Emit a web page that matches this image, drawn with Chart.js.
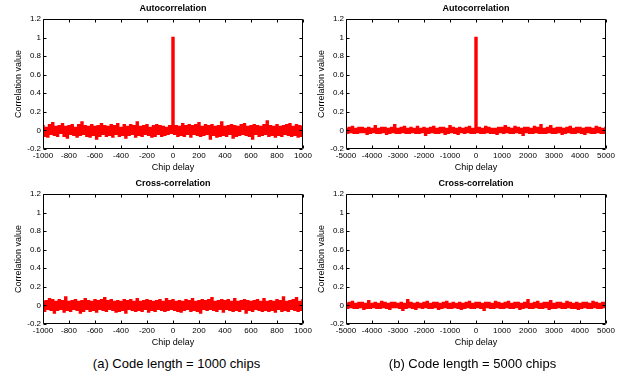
<!DOCTYPE html>
<html>
<head>
<meta charset="utf-8">
<script src="https://cdn.jsdelivr.net/npm/chart.js@4.4.1/dist/chart.umd.min.js"></script>
<style>
body{margin:0;background:#fff;width:626px;height:378px;position:relative;overflow:hidden;font-family:"Liberation Sans",Arial,sans-serif}
canvas{position:absolute}
.cap{position:absolute;top:356px;width:313px;text-align:center;font-size:13px;line-height:15px;color:#000}
</style>
</head>
<body>
<canvas id="autoA" width="313" height="175" style="left:0;top:0"></canvas>
<canvas id="autoB" width="313" height="175" style="left:303px;top:0"></canvas>
<canvas id="crossA" width="313" height="175" style="left:0;top:175px"></canvas>
<canvas id="crossB" width="313" height="175" style="left:303px;top:175px"></canvas>
<div class="cap" style="left:20px">(a) Code length = 1000 chips</div>
<div class="cap" style="left:316px">(b) Code length = 5000 chips</div>
<script>
// correlation values, evenly spaced over the delay range
const auto1000 = [
  .05,-.06,.03,-.07,.06,-.04,.08,-.05,.04,-.06,
  .05,-.03,.07,-.06,.04,-.08,.05,-.04,.06,-.05,
  .03,-.07,.06,-.05,.09,-.04,.05,-.06,.04,-.07,
  .06,-.05,.04,-.09,.05,-.06,.07,-.04,.05,-.06,
  .04,-.05,.06,-.07,.05,-.04,.07,-.06,.03,-.05,
  .06,-.08,.04,-.05,.06,-.04,.05,-.07,.09,-.05,
  .04,-.06,.05,-.04,.06,-.05,.03,-.07,.05,-.06,
  .06,-.04,.05,-.06,.04,-.05,.03,-.04,.05,-.03,
  1,
  -.04,.05,-.06,.04,-.05,.07,-.06,.05,-.04,.06,
  -.07,.05,-.04,.06,-.05,.08,-.06,.04,-.05,.06,
  -.04,.05,-.09,.06,-.05,.04,-.07,.05,-.06,.09,
  -.05,.04,-.06,.05,-.04,.06,-.08,.05,-.06,.04,
  -.05,.06,-.04,.07,-.05,.04,-.06,.05,-.09,.06,
  -.04,.05,-.06,.04,-.05,.06,-.04,.10,-.06,.05,
  -.05,.04,-.07,.06,-.05,.04,-.06,.05,-.04,.06,
  -.05,.07,-.06,.04,-.05,.06,-.07,.05,-.06,.04
];
const cross1000 = [
  .04,-.06,.05,-.04,.07,-.05,.06,-.08,.04,-.05,
  .06,-.04,.05,-.07,.09,-.05,.04,-.06,.05,-.04,
  .06,-.05,.04,-.08,.05,-.06,.07,-.04,.05,-.06,
  .04,-.05,.06,-.07,.05,-.04,.06,-.05,.08,-.06,
  .05,-.04,.06,-.05,.04,-.07,.05,-.06,.04,-.05,
  .06,-.08,.05,-.04,.06,-.05,.04,-.06,.07,-.05,
  .04,-.06,.05,-.04,.06,-.07,.05,-.05,.04,-.06,
  .05,-.04,.06,-.05,.04,-.06,.07,-.05,.05,-.04,
  .06,
  -.05,.04,-.06,.05,-.07,.04,-.05,.06,-.04,.05,
  -.06,.07,-.05,.04,-.06,.05,-.08,.06,-.04,.05,
  -.05,.06,-.04,.08,-.05,.04,-.06,.05,-.04,.06,
  -.07,.05,-.04,.06,-.05,.04,-.06,.07,-.05,.04,
  -.06,.05,-.04,.06,-.08,.05,-.05,.04,-.06,.05,
  -.04,.06,-.05,.04,-.06,.07,-.05,.04,-.06,.05,
  -.05,.04,-.07,.06,-.04,.05,-.06,.09,-.05,.04,
  -.06,.05,-.04,.06,-.05,.08,-.06,.04,-.05,.06
];
const auto5000 = [
  .02,-.03,.03,-.02,.04,-.03,.02,-.03,.03,-.02,
  .03,-.02,.02,-.04,.03,-.03,.02,-.02,.05,-.03,
  .02,-.03,.03,-.02,.03,-.04,.02,-.03,.03,-.02,
  .06,-.03,.02,-.03,.03,-.02,.04,-.03,.02,-.03,
  .03,-.02,.02,-.03,.04,-.03,.02,-.02,.03,-.05,
  .02,-.03,.03,-.02,.04,-.03,.02,-.03,.03,-.02,
  .03,-.04,.02,-.03,.05,-.02,.03,-.03,.02,-.04,
  .03,-.02,.02,-.03,.03,-.02,.04,-.03,.02,-.03,
  1,
  -.02,.03,-.03,.02,-.03,.04,-.02,.03,-.03,.02,
  -.03,.02,-.04,.03,-.02,.03,-.03,.05,-.02,.03,
  -.03,.02,-.03,.04,-.02,.03,-.03,.02,-.05,.03,
  -.02,.03,-.03,.02,-.03,.04,-.02,.03,-.03,.06,
  -.03,.02,-.03,.03,-.02,.05,-.03,.02,-.03,.03,
  -.02,.03,-.04,.02,-.03,.03,-.02,.04,-.03,.02,
  -.03,.03,-.02,.03,-.03,.02,-.04,.03,-.02,.03,
  -.03,.02,-.03,.04,-.02,.03,-.03,.02,-.03,.03
];
const cross5000 = [
  .02,-.03,.03,-.02,.04,-.03,.02,-.03,.03,-.02,
  .03,-.04,.02,-.03,.05,-.03,.02,-.02,.03,-.03,
  .02,-.03,.04,-.02,.03,-.03,.02,-.04,.03,-.02,
  .03,-.02,.02,-.03,.03,-.05,.02,-.03,.06,-.02,
  .03,-.03,.02,-.04,.03,-.02,.02,-.03,.03,-.02,
  .04,-.03,.02,-.03,.03,-.02,.03,-.04,.02,-.03,
  .03,-.02,.04,-.03,.02,-.03,.03,-.02,.02,-.03,
  .03,-.04,.02,-.03,.03,-.02,.04,-.03,.02,-.03,
  .03,
  -.02,.03,-.03,.02,-.05,.03,-.02,.03,-.03,.02,
  -.03,.04,-.02,.03,-.03,.02,-.03,.03,-.02,.04,
  -.03,.02,-.03,.03,-.02,.03,-.04,.02,-.03,.03,
  -.02,.06,-.03,.02,-.03,.03,-.02,.04,-.03,.02,
  -.03,.03,-.02,.03,-.04,.05,-.03,.02,-.03,.03,
  -.02,.03,-.03,.02,-.03,.04,-.02,.03,-.03,.02,
  -.03,.03,-.04,.02,-.03,.03,-.02,.03,-.03,.02,
  -.03,.04,-.02,.03,-.03,.02,-.03,.03,-.02,.03
];

Chart.defaults.font.family = '"Liberation Sans", Arial, sans-serif';
Chart.defaults.color = '#000';

// matlab style box with inward ticks on all four sides
const boxTicks = {
  id: 'boxTicks',
  afterDraw(chart) {
    const {ctx, chartArea: a, scales: {x, y}} = chart;
    const L = Math.round(a.left) + 0.5, R = Math.round(a.right) - 0.5;
    const T = Math.round(a.top) + 0.5, B = Math.round(a.bottom) - 0.5;
    ctx.save();
    ctx.strokeStyle = '#000';
    ctx.lineWidth = 1;
    ctx.beginPath();
    ctx.rect(L, T, R - L, B - T);
    x.ticks.forEach(t => {
      const p = Math.round(x.getPixelForValue(t.value)) + 0.5;
      ctx.moveTo(p, B); ctx.lineTo(p, B - 3);
      ctx.moveTo(p, T); ctx.lineTo(p, T + 3);
    });
    y.ticks.forEach(t => {
      const p = Math.round(y.getPixelForValue(t.value)) + 0.5;
      ctx.moveTo(L, p); ctx.lineTo(L + 3, p);
      ctx.moveTo(R, p); ctx.lineTo(R - 3, p);
    });
    ctx.stroke();
    ctx.restore();
  }
};

function drawPanel(id, title, span, step, values) {
  const n = values.length;
  const pts = values.map((v, i) => ({x: -span + i * 2 * span / (n - 1), y: v}));
  new Chart(document.getElementById(id), {
    type: 'line',
    data: {datasets: [{data: pts, borderColor: '#ff0000', borderWidth: 1.8, pointRadius: 0,
                       stepped: 'middle', borderJoinStyle: 'miter'}]},
    options: {
      responsive: false,
      animation: false,
      devicePixelRatio: 1,
      layout: {padding: {left: 0, right: 10, top: 0, bottom: 0}},
      plugins: {
        legend: {display: false},
        tooltip: {enabled: false},
        title: {
          display: true, text: title, fullSize: false,
          font: {size: 9, weight: 'bold', lineHeight: 1.2},
          padding: {top: 3, bottom: 5.2}, color: '#000'
        }
      },
      scales: {
        x: {
          type: 'linear', min: -span, max: span,
          grid: {display: false, drawTicks: false},
          border: {display: false},
          ticks: {stepSize: step, padding: 2, font: {size: 8}, maxRotation: 0, autoSkip: false,
                  callback: v => String(v)},
          title: {display: true, text: 'Chip delay', font: {size: 9}, padding: {top: 0, bottom: 2}},
          afterFit(s) { s.height = 26; s.paddingLeft = 0; s.paddingRight = 0; }
        },
        y: {
          min: -0.2, max: 1.2,
          grid: {display: false, drawTicks: false},
          border: {display: false},
          ticks: {stepSize: 0.2, padding: 2, font: {size: 8},
                  callback: v => String(+v.toFixed(1))},
          title: {display: true, text: 'Correlation value', font: {size: 9}, padding: {top: 13, bottom: 0}},
          afterFit(s) { s.width = 43; s.paddingTop = 0; s.paddingBottom = 0; }
        }
      }
    },
    plugins: [boxTicks]
  });
}

drawPanel('autoA', 'Autocorrelation', 1000, 200, auto1000);
drawPanel('autoB', 'Autocorrelation', 5000, 1000, auto5000);
drawPanel('crossA', 'Cross-correlation', 1000, 200, cross1000);
drawPanel('crossB', 'Cross-correlation', 5000, 1000, cross5000);
</script>
</body>
</html>
